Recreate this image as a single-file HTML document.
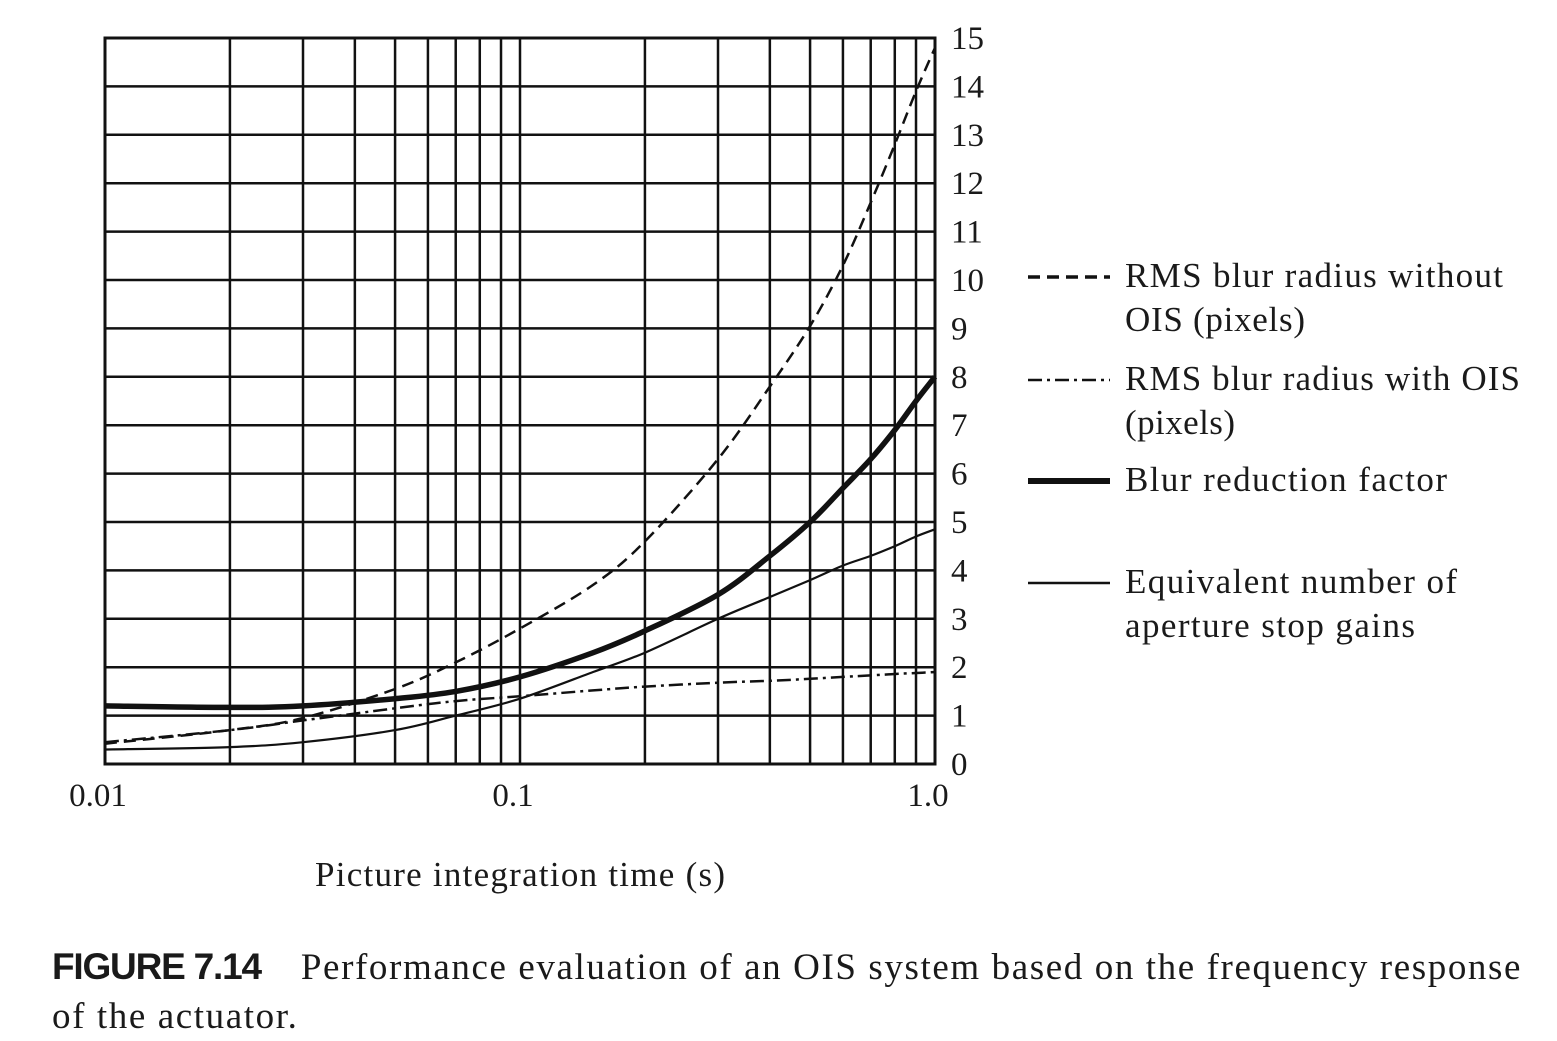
<!DOCTYPE html>
<html><head><meta charset="utf-8">
<style>
html,body{margin:0;padding:0;background:#fff;}
body{width:1557px;height:1040px;overflow:hidden;position:relative;font-family:"Liberation Serif",serif;color:#1a1a1a;}
svg{position:absolute;left:0;top:0;}
.cap{position:absolute;left:52px;top:942px;font-size:37px;line-height:49px;width:1505px;letter-spacing:1.6px;white-space:nowrap;}
.fig{font-family:"Liberation Sans",sans-serif;font-weight:bold;letter-spacing:-1.2px;font-size:37px;margin-right:40px;}
</style></head><body>
<svg id="chart" width="1557" height="1040"></svg>
<div class="cap"><span class="fig">FIGURE 7.14</span>Performance evaluation of an OIS system based on the frequency response<br>of the actuator.</div>
<script>
const xs = [0.01,0.02,0.03,0.05,0.07,0.1,0.15,0.2,0.3,0.4,0.5,0.6,0.7,0.8,0.9,1.0];
const noOis = [0.42,0.7,0.95,1.55,2.1,2.8,3.7,4.6,6.3,7.8,9.05,10.3,11.6,12.8,13.9,14.8];
const withOis = [0.45,0.7,0.9,1.15,1.3,1.4,1.52,1.6,1.68,1.72,1.76,1.8,1.83,1.86,1.88,1.9];
const reduction = [1.2,1.17,1.2,1.35,1.5,1.8,2.3,2.75,3.5,4.3,5.0,5.7,6.3,6.9,7.5,8.0];
const stops = [0.3,0.35,0.45,0.7,1.0,1.35,1.9,2.3,3.0,3.45,3.8,4.1,4.3,4.5,4.7,4.85];
const yTicks = [0,1,2,3,4,5,6,7,8,9,10,11,12,13,14,15];
const xTickLabels = [[0.01,"0.01"],[0.1,"0.1"],[1.0,"1.0"]];

const X0=105,X1=935,Y0=764,Y1=38;
const xS=v=>X0+(Math.log10(v)+2)/2*(X1-X0);
const yS=v=>Y0-v/15*(Y0-Y1);
const svg=document.getElementById('chart');
const NS='http://www.w3.org/2000/svg';
function mk(t,a,p){const e=document.createElementNS(NS,t);for(const k in a)e.setAttribute(k,a[k]);(p||svg).appendChild(e);return e;}

const grid=mk('g',{});


for(let d=0;d<2;d++)for(let m=2;m<=9;m++){const v=Math.pow(10,-2+d)*m;const l=mk('line',{x1:xS(v),x2:xS(v),y1:Y1,y2:Y0,stroke:'#111','stroke-width':2.5},grid);

}
[0.1].forEach(v=>{const l=mk('line',{x1:xS(v),x2:xS(v),y1:Y1,y2:Y0,stroke:'#111','stroke-width':2.5},grid);

});
yTicks.forEach(t=>{const l=mk('line',{x1:X0,x2:X1,y1:yS(t),y2:yS(t),stroke:'#111','stroke-width':2.5},grid);


const tx=mk('text',{x:951,y:yS(t)+11,'font-size':33,'font-family':'Liberation Serif, serif',fill:'#1a1a1a'});tx.textContent=t;

});
const fr=mk('rect',{x:X0,y:Y1,width:X1-X0,height:Y0-Y1,fill:'none',stroke:'#111','stroke-width':3});


xTickLabels.forEach(([v,s])=>{const tx=mk('text',{x:xS(v)-7,y:806,'font-size':33,'text-anchor':'middle','font-family':'Liberation Serif, serif',fill:'#1a1a1a'});tx.textContent=s;

});
const xt=mk('text',{x:315,y:886,'font-size':35,textLength:410,lengthAdjust:'spacing',fill:'#1a1a1a'});xt.textContent='Picture integration time (s)';



function series(vals,w,dash,name){
 const P=xs.map((x,i)=>[xS(x),yS(vals[i])]);
 let d='M'+P[0][0].toFixed(1)+' '+P[0][1].toFixed(1);
 for(let i=0;i<P.length-1;i++){
  const p0=P[Math.max(i-1,0)],p1=P[i],p2=P[i+1],p3=P[Math.min(i+2,P.length-1)];
  const c1=[p1[0]+(p2[0]-p0[0])/6,p1[1]+(p2[1]-p0[1])/6];
  const c2=[p2[0]-(p3[0]-p1[0])/6,p2[1]-(p3[1]-p1[1])/6];
  d+=' C'+c1.map(v=>v.toFixed(1)).join(' ')+' '+c2.map(v=>v.toFixed(1)).join(' ')+' '+p2.map(v=>v.toFixed(1)).join(' ');
 }
 const p=mk('path',{d:d,fill:'none',stroke:'#111','stroke-width':w,'stroke-dasharray':dash||'none','stroke-linejoin':'round'});
 
 
}
series(noOis,2.5,'12 7','series-blur-without-ois');
series(withOis,2.5,'14 5 3 5','series-blur-with-ois');
series(reduction,5.5,'','series-blur-reduction');
series(stops,2.2,'','series-aperture-stops');

const leg=[[277,'12 7',3.5,[['RMS blur radius without',378],['OIS (pixels)',180]],'legend-without-ois'],
[380,'14 5 3 5',2.5,[['RMS blur radius with OIS',395],['(pixels)',110]],'legend-with-ois'],
[481,'',6,[['Blur reduction factor',322]],'legend-reduction'],
[583,'',2.5,[['Equivalent number of',332],['aperture stop gains',290]],'legend-stops']];
leg.forEach(([y,da,w,lines,n])=>{const g=mk('g',{});


mk('line',{x1:1028,x2:1110,y1:y,y2:y,stroke:'#111','stroke-width':w,'stroke-dasharray':da||'none'},g);
lines.forEach(([s,L],i)=>{const t=mk('text',{x:1125,y:y+10+i*44,'font-size':35,textLength:L,lengthAdjust:'spacing',fill:'#1a1a1a'},g);t.textContent=s;});});
</script>
</body></html>
